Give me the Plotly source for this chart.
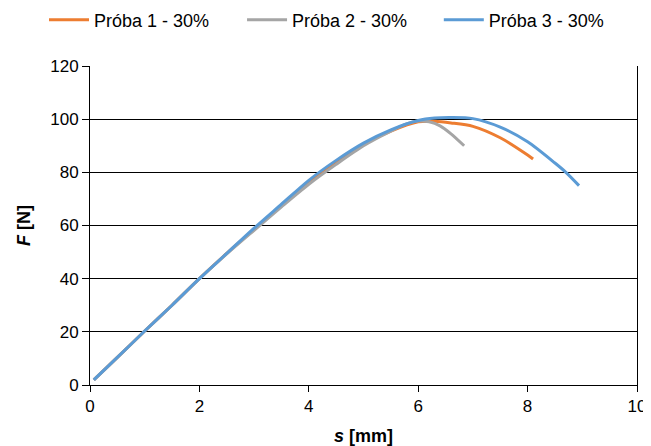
import plotly.graph_objects as go

names = ["Próba 1 - 30%", "Próba 2 - 30%", "Próba 3 - 30%"]
colors = ["#ED7D31", "#A5A5A5", "#5B9BD5"]

s1 = [0.07, 0.5, 1.0, 1.5, 2.0, 2.5, 3.0, 3.5, 4.0, 4.5, 5.0, 5.5, 6.0, 6.3, 6.6, 7.0, 7.5, 8.0, 8.1]
f1 = [1.9, 10.4, 20.3, 30, 40, 49.5, 58.5, 67.5, 76, 83.5, 90.5, 95.5, 99, 99.2, 98.6, 97.3, 93, 86.5, 85]

s2 = [0.07, 0.5, 1.0, 1.5, 2.0, 2.5, 3.0, 3.5, 4.0, 4.5, 5.0, 5.5, 5.8, 6.0, 6.2, 6.4, 6.6, 6.84]
f2 = [1.9, 10.4, 20.3, 30, 40, 49.3, 58.2, 67, 75.5, 83, 90, 95.5, 98.3, 99.3, 99, 97.5, 94.5, 90]

s3 = [0.07, 0.5, 1.0, 1.5, 2.0, 2.5, 3.0, 3.5, 4.0, 4.5, 5.0, 5.5, 6.0, 6.3, 6.6, 7.0, 7.5, 8.0, 8.5, 8.7, 8.94]
f3 = [1.9, 10.4, 20.3, 30, 40, 49.5, 59, 68, 77, 84.5, 91, 96, 99.5, 100.4, 100.6, 100.2, 97, 91.5, 83.5, 80, 75]

legend_ids = ["legend", "legend2", "legend3"]
legend_x = [0.056, 0.364, 0.670]

fig = go.Figure()
for n, c, xs, ys, lg in [(names[0], colors[0], s1, f1, legend_ids[0]),
                         (names[1], colors[1], s2, f2, legend_ids[1]),
                         (names[2], colors[2], s3, f3, legend_ids[2])]:
    fig.add_trace(go.Scatter(x=xs, y=ys, mode="lines", name=n, legend=lg, showlegend=True,
                             line=dict(color=c, width=3, shape="spline", smoothing=0.8)))

legend_common = dict(orientation="h", xanchor="left", xref="container",
                     y=0.9726, yanchor="middle", yref="container",
                     font=dict(size=18), itemwidth=40, bgcolor="rgba(0,0,0,0)")

fig.update_layout(
    width=643, height=438,
    showlegend=True,
    margin=dict(l=82, r=14, t=58, b=61, autoexpand=False),
    paper_bgcolor="white", plot_bgcolor="white",
    font=dict(family="Liberation Sans, Arial, sans-serif", size=17, color="#000"),
    legend=dict(x=legend_x[0], **legend_common),
    legend2=dict(x=legend_x[1], **legend_common),
    legend3=dict(x=legend_x[2], **legend_common),
    xaxis=dict(range=[0, 10], dtick=2, showgrid=False, showline=True, linecolor="#000",
               linewidth=1, ticks="outside", ticklen=6, tickcolor="#000",
               zeroline=False,
               title=dict(text="<b><i>s</i> [mm]</b>", font=dict(size=18), standoff=14)),
    yaxis=dict(range=[0, 120], dtick=20, showgrid=True, gridcolor="#000", gridwidth=1,
               showline=True, linecolor="#000", linewidth=1, mirror=True,
               ticks="outside", ticklen=7, tickcolor="#000", zeroline=False,
               title=dict(text="<b><i>F</i> [N]</b>", font=dict(size=18), standoff=14)),
)

fig.write_html("out.html")
